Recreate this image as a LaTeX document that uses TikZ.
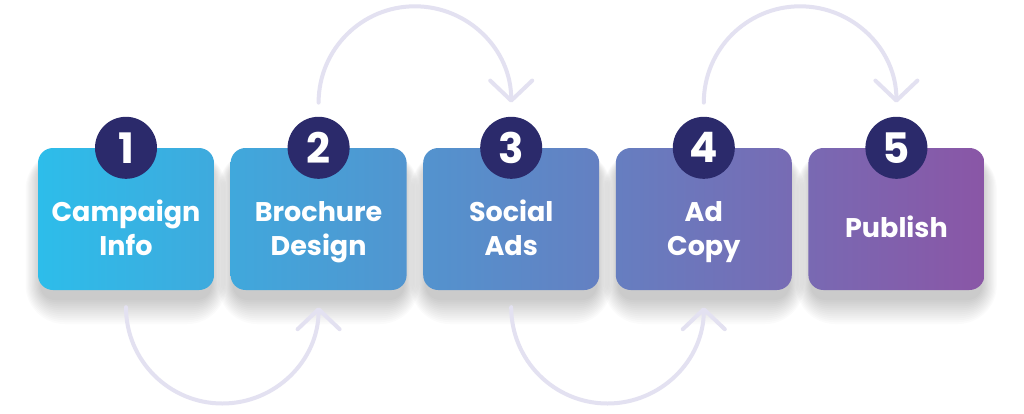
\documentclass[tikz,border=0pt]{standalone}
\usepackage{fontspec}
\setmainfont{Poppins}
\usetikzlibrary{arrows.meta,calc}
\definecolor{cA}{RGB}{45,189,234}
\definecolor{cB}{RGB}{138,86,166}
\definecolor{navy}{RGB}{43,42,107}
\definecolor{arcc}{RGB}{227,225,241}
\tikzset{
  stepbox/.style={rounded corners=15pt, minimum width=176pt, minimum height=142pt, inner sep=0pt},
  shadowlayer/.style={fill=black, fill opacity=0.016},
  numdot/.style={circle, fill=navy, minimum size=62pt, inner sep=0pt, text=white,
    font=\fontsize{42}{42}\selectfont\bfseries},
  steptext/.style={text=white, align=center, inner sep=0pt, font=\fontsize{27}{34}\selectfont\bfseries},
  flow/.style={draw=arcc, line width=4pt, line cap=round,
    -{Straight Barb[length=20pt,width=42pt,line width=4pt,round]}}
}
\begin{document}
\begin{tikzpicture}[x=1pt,y=1pt]
\useasboundingbox (0,0) rectangle (1024,-413);
\fill[white] (0,0) rectangle (1024,-413);
% soft shadows
\foreach \i in {1,...,5}{
  \pgfmathsetmacro{\cx}{126+192.6*(\i-1)}
  \foreach \k in {0,2,...,24}{
    \fill[shadowlayer, rounded corners={15pt+\k pt}] (\cx-86-\k*0.6, -219-71-10-\k) rectangle (\cx+86+\k*0.6, -219+71-12+\k*0.4);
  }
}
\foreach \i/\fl/\fr in {1/0/18.6, 2/20.4/39, 3/40.7/59.3, 4/61.1/79.7, 5/81.4/100}{
  \pgfmathsetmacro{\cx}{126+192.6*(\i-1)}
  \node[stepbox, left color=cB!\fl!cA, right color=cB!\fr!cA] (b\i) at (\cx,-219) {};
}
\node[steptext] (t1) at ([yshift=-13pt]b1.center) {\strut Campaign\\\strut Info};
\node[steptext] (t2) at ([yshift=-13pt]b2.center) {\strut Brochure\\\strut Design};
\node[steptext] (t3) at ([yshift=-13pt]b3.center) {\strut Social\\\strut Ads};
\node[steptext] (t4) at ([yshift=-13pt]b4.center) {\strut Ad\\\strut Copy};
\node[steptext] (t5) at ([yshift=-12pt]b5.center) {\strut Publish};
\foreach \i in {1,...,5}{
  \node[numdot] (c\i) at (b\i.north) {\i};
}
\draw[flow] ([yshift=-17pt]b1.south) arc[start angle=180, end angle=360, radius=96.3pt];
\draw[flow] ([yshift=-17pt]b3.south) arc[start angle=180, end angle=360, radius=96.3pt];
\draw[flow] ([yshift=14pt]c2.north) arc[start angle=180, end angle=0, radius=96.3pt];
\draw[flow] ([yshift=14pt]c4.north) arc[start angle=180, end angle=0, radius=96.3pt];
\end{tikzpicture}
\end{document}
